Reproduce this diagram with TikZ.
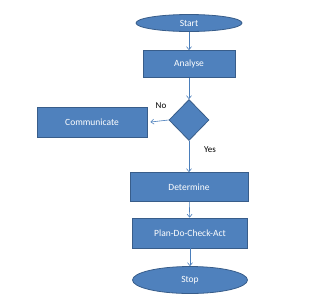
\documentclass[tikz,border=0pt]{standalone}
\usepackage{fontspec}
\setmainfont{Carlito}
\usetikzlibrary{shapes.geometric,arrows.meta}
\definecolor{boxfill}{HTML}{4F81BD}
\definecolor{boxline}{HTML}{385D8A}
\definecolor{arrowc}{HTML}{4A7EBB}
\tikzset{
  base/.style={fill=boxfill,draw=boxline,line width=0.8pt,text=white,font=\fontsize{9.5}{11}\selectfont,inner sep=0pt},
  procbox/.style={base,rectangle,minimum width=#1,minimum height=29pt},
  termin/.style={base,ellipse,minimum width=#1},
  decis/.style={base,diamond,minimum width=40pt,minimum height=41pt},
  conn/.style={draw=arrowc,line width=0.6pt,-{Straight Barb[length=3pt,width=5pt]}},
  lbl/.style={font=\fontsize{9}{10}\selectfont,text=black}
}
\begin{document}
\begin{tikzpicture}[x=1pt,y=-1pt]
\useasboundingbox (0,0) rectangle (320,301);
\node[termin=106pt,minimum height=17pt] (start) at (189,23) {Start};
\node[procbox=92pt,minimum height=27pt] (analyse) at (189,64) {Analyse};
\node[decis] (dec) at (189,120) {};
\node[procbox=110pt,minimum height=30pt] (comm) at (92,122) {Communicate};
\node[procbox=118pt] (det) at (189,187) {Determine};
\node[procbox=115pt,minimum height=30pt] (pdca) at (190,233) {Plan-Do-Check-Act};
\node[termin=115pt,minimum height=27pt] (stop) at (190,280) {Stop};
\draw[conn] (start) -- (analyse);
\draw[conn] (analyse) -- (dec);
\draw[conn] (dec.west) -- ([xshift=3pt]comm.east);
\draw[conn] (dec.south) -- (det.north);
\draw[conn] (det) -- (pdca);
\draw[conn] (pdca) -- (stop);
\node[lbl] (no) at (161,106) {No};
\node[lbl] (yes) at (210,150) {Yes};
\end{tikzpicture}
\end{document}
